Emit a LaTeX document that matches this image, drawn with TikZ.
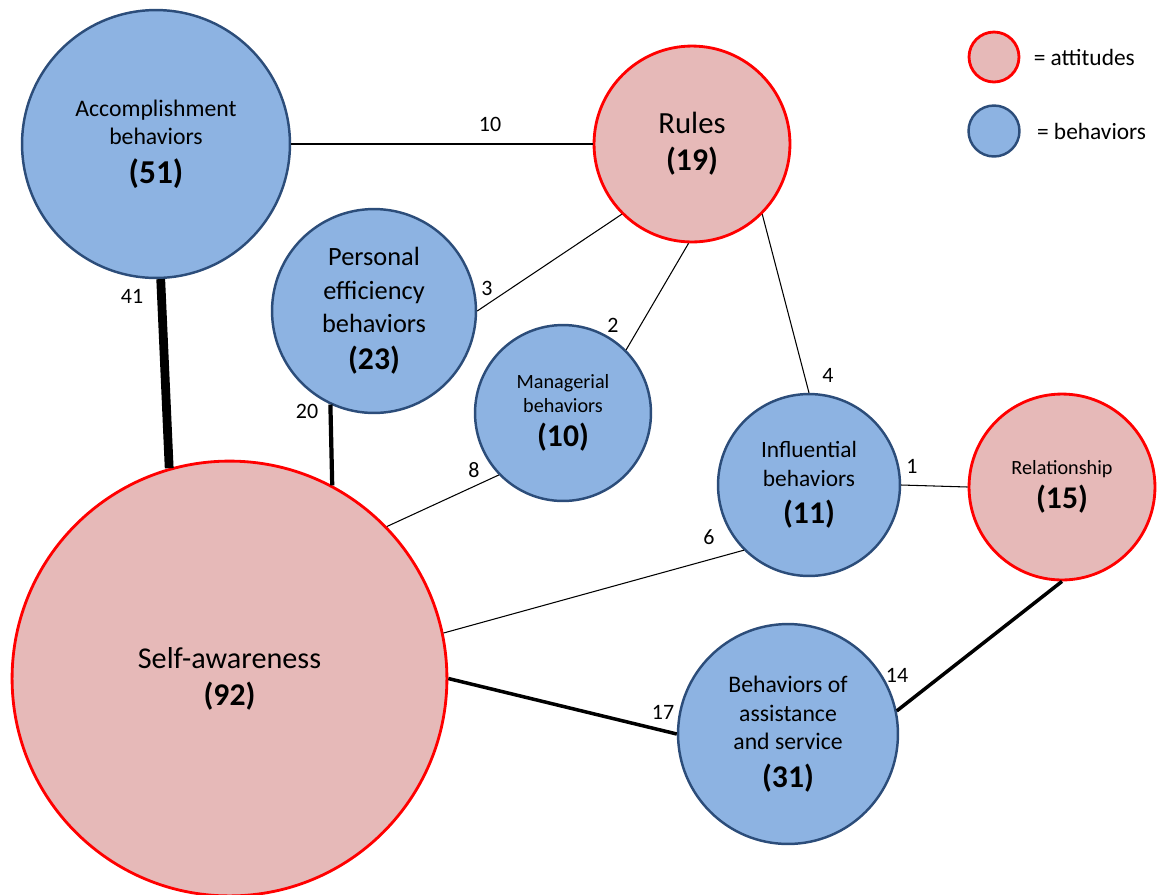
\documentclass[tikz,border=0pt]{standalone}
\usepackage{fontspec}
\setmainfont{Carlito}
\usepackage{xcolor}
\usetikzlibrary{positioning}
\definecolor{attfill}{RGB}{230,185,184}
\definecolor{attline}{RGB}{255,0,0}
\definecolor{behfill}{RGB}{141,179,226}
\definecolor{behline}{RGB}{44,77,122}
\newcommand{\cnt}[1]{{\fontsize{18}{21}\selectfont\bfseries (#1)}}

\begin{document}
\begin{tikzpicture}[
    x=0.02cm, y=-0.02cm,
    attitude/.style={circle, draw=attline, fill=attfill, line width=1.6pt, inner sep=0pt, align=center},
    behavior/.style={circle, draw=behline, fill=behfill, line width=1.4pt, inner sep=0pt, align=center},
    rpx/.style={minimum size=#1*0.04cm},
    fs/.style args={#1/#2}{font=\fontsize{#1}{#2}\selectfont},
    link/.style={line width=#1, color=black},
    lbl/.style={font=\fontsize{12.5}{15}\selectfont, inner sep=0pt}
]
\useasboundingbox (0,0) rectangle (1157,894);
\node[behavior, rpx=134, fs=13.5/16] (acc) at (156,144) {Accomplishment\\behaviors\\[6pt]{\fontsize{19}{22}\selectfont\bfseries (51)}};
\node[attitude, rpx=98, fs=17.5/21] (rules) at (692,144) {Rules\\\cnt{19}};
\node[behavior, rpx=102, fs=15/19] (pers) at (374,311) {Personal\\efficiency\\behaviors\\[2pt]\cnt{23}};
\node[behavior, rpx=88, fs=11.5/13.5] (man) at (563,413) {Managerial\\behaviors\\[6pt]\cnt{10}};
\node[behavior, rpx=91, fs=13.3/16.4] (infl) at (809,485) {Influential\\behaviors\\[5pt]\cnt{11}};
\node[attitude, rpx=93, fs=11.5/13] (rel) at (1062,487) {Relationship\\[3pt]\cnt{15}};
\node[attitude, rpx=217.5, fs=17.2/20] (self) at (229.5,678.5) {Self-awareness\\[1pt]\cnt{92}};
\node[behavior, rpx=110, fs=13.5/16.3] (assist) at (788,734) {Behaviors of\\assistance\\and service\\[5pt]\cnt{31}};
% key
\node[attitude, rpx=25] (katt) at (994,57) {};
\node[behavior, rpx=25.5] (kbeh) at (994,131) {};
\node[fs=13.3/16, inner sep=0pt, right=0.26cm of katt] (tatt) {= attitudes};
\node[fs=13.3/16, inner sep=0pt, right=0.32cm of kbeh] (tbeh) {= behaviors};
% links
\draw[link=5pt] (acc.272) -- (self.106);
\draw[link=2.4pt] (pers.245) -- (self.62);
\draw[link=1.2pt] (acc.east) -- (rules.west);
\draw[link=0.6pt] (pers.0) -- (rules.225);
\draw[link=0.6pt] (man.45) -- (rules.268);
\draw[link=0.6pt] (man.224) -- (self.44);
\draw[link=0.6pt] (rules.315) -- (infl.90);
\draw[link=0.6pt] (infl.0) -- (rel.180);
\draw[link=0.6pt] (infl.225) -- (self.12);
\draw[link=2pt] (self.0) -- (assist.180);
\draw[link=2pt] (rel.270) -- (assist.12);
\node[lbl] (n41) at (132,296) {41};
\node[lbl] (n20) at (307,411) {20};
\node[lbl] (n10) at (490,124) {10};
\node[lbl] (n3) at (487,288) {3};
\node[lbl] (n2) at (613,325) {2};
\node[lbl] (n8) at (474,470) {8};
\node[lbl] (n4) at (828,375) {4};
\node[lbl] (n1) at (912,466) {1};
\node[lbl] (n6) at (709,537) {6};
\node[lbl] (n17) at (663,712) {17};
\node[lbl] (n14) at (897,675) {14};
\end{tikzpicture}
\end{document}
